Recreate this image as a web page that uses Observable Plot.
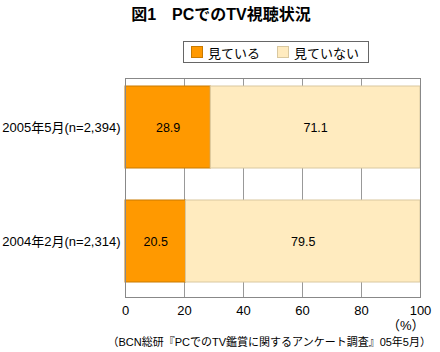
<!DOCTYPE html>
<html><head><meta charset="utf-8">
<script src="https://cdn.jsdelivr.net/npm/d3@7"></script>
<script src="https://cdn.jsdelivr.net/npm/@observablehq/plot@0.6"></script>
<style>
body{margin:0;background:#fff;font-family:"Liberation Sans","Noto Sans CJK JP",sans-serif;color:#000;}
#wrap{width:440px;height:352px;position:relative;overflow:hidden;}
#title{height:30px;line-height:30px;font-size:16px;font-weight:bold;text-align:center;padding-left:2px;}
#legendRow{height:40px;position:relative;}
#legend{position:absolute;left:183px;top:11px;width:184px;height:20px;border:1.5px solid #666;display:flex;align-items:center;font-size:13px;white-space:nowrap;}
.item{display:flex;align-items:center;margin-left:7px;margin-right:10px;white-space:nowrap;}
.sw{width:10px;height:10px;margin-right:5px;flex:none;}
#caption{height:20px;line-height:20px;font-size:11px;text-align:right;padding-right:9px;white-space:nowrap;}
svg{display:block;}
</style></head>
<body><div id="wrap">
<div id="title">図1　PCでのTV視聴状況</div>
<div id="legendRow"><div id="legend"></div></div>
<div id="chart"></div>
<div id="caption">（BCN総研『PCでのTV鑑賞に関するアンケート調査』05年5月）</div>
</div>
<script>
const categories = ["2005年5月(n=2,394)", "2004年2月(n=2,314)"];
const seriesNames = ["見ている", "見ていない"];
const watching = [28.9, 20.5];
const notWatching = [71.1, 79.5];
const xTicks = [0, 20, 40, 60, 80, 100];
const unitLabel = "（%）";
const colors = ["#FF9900", "#FFEBBF"];
const strokes = ["#C97A00", "#D9C8A0"];

const rows = [];
categories.forEach((c, i) => {
  rows.push({cat: c, series: seriesNames[0], value: watching[i]});
  rows.push({cat: c, series: seriesNames[1], value: notWatching[i]});
});

const legend = document.getElementById("legend");
seriesNames.forEach((s, i) => {
  const it = document.createElement("div");
  it.className = "item";
  it.innerHTML = `<span class="sw" style="background:${colors[i]};border:1px solid ${strokes[i]}"></span>${s}`;
  legend.appendChild(it);
});

const chart = Plot.plot({
  width: 440,
  height: 262,
  marginTop: 8,
  marginBottom: 35,
  marginLeft: 125,
  marginRight: 20,
  style: {fontFamily: '"Liberation Sans","Noto Sans CJK JP",sans-serif', fontSize: "12px", color: "#000"},
  x: {domain: [0, 100], ticks: xTicks},
  y: {domain: categories, paddingInner: 0.278, paddingOuter: 0.0913, align: 0.333},
  color: {domain: seriesNames, range: colors},
  marks: [
    Plot.gridX(xTicks, {stroke: "#999", strokeOpacity: 1}),
    Plot.barX(rows, Plot.stackX({x: "value", y: "cat", fill: "series", stroke: d => strokes[seriesNames.indexOf(d.series)], strokeWidth: 1, inset: 0})),
    Plot.textX(rows, Plot.stackX({x: "value", y: "cat", z: "series", text: d => d.value.toFixed(1), fontSize: 12.5, fill: "#000"})),
    Plot.frame({stroke: "#888"}),
    Plot.axisX({ticks: xTicks, tickSize: 0, tickPadding: 8, fontSize: 13, label: null}),
    Plot.text([unitLabel], {frameAnchor: "bottom-right", text: d => d, dy: 32, dx: 4, fontSize: 13}),
    Plot.axisY({tickSize: 0, tickPadding: 5, fontSize: 13, label: null})
  ]
});
document.getElementById("chart").appendChild(chart);
</script>
</body></html>
